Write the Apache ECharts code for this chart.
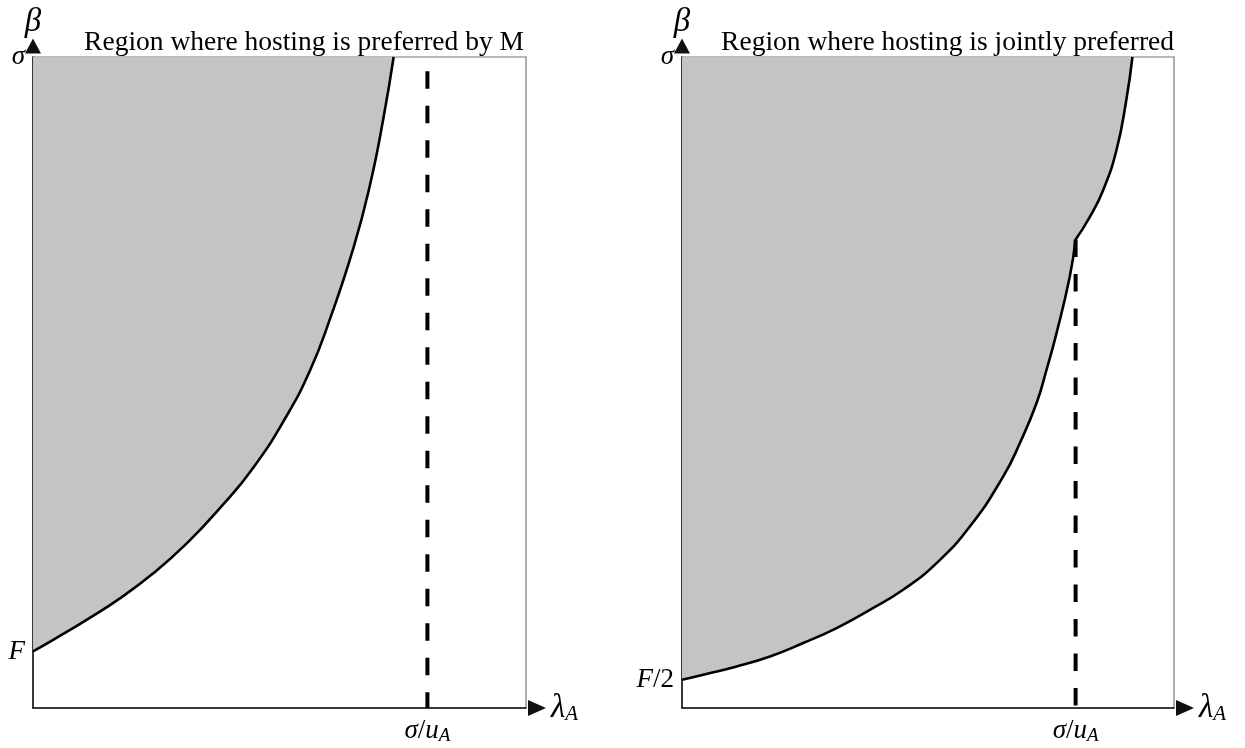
<!DOCTYPE html>
<html>
<head>
<meta charset="utf-8">
<title>hosting regions</title>
<script src="https://cdn.jsdelivr.net/npm/echarts@6/dist/echarts.min.js"></script>
<style>
  html, body { margin: 0; padding: 0; background: #fff; }
  #chart { width: 1245px; height: 748px; }
</style>
</head>
<body>
<div id="chart"></div>
<script>
// panel titles
const titles = ['Region where hosting is preferred by M', 'Region where hosting is jointly preferred'];

// boundary of the grey region, left panel: [lambda_A, beta], both scaled to 0..1
const leftCurve = [
  [0, 0.0869], [0.0418, 0.1051], [0.1095, 0.1358], [0.1771, 0.1688], [0.2446, 0.2072],
  [0.3124, 0.2532], [0.3799, 0.3077], [0.4475, 0.3699], [0.5152, 0.4497], [0.5625, 0.5195],
  [0.5996, 0.5916], [0.6503, 0.7075], [0.6842, 0.8057], [0.7112, 0.9079], [0.7315, 1]
];

// right panel, split at the kink on sigma/u_A
const rightLower = [
  [0, 0.0434], [0.0433, 0.0511], [0.1111, 0.0638], [0.1788, 0.0792], [0.2464, 0.0998],
  [0.3142, 0.1228], [0.3819, 0.1509], [0.4495, 0.1816], [0.5174, 0.2225], [0.5850, 0.2787],
  [0.6527, 0.3554], [0.6866, 0.4067], [0.7205, 0.4681], [0.7408, 0.5192], [0.7611, 0.5755],
  [0.7881, 0.6624], [0.8, 0.7198]
];
const rightUpper = [
  [0.8, 0.7198], [0.829, 0.7545], [0.856, 0.7954], [0.883, 0.8568], [0.903, 0.9335], [0.9155, 1]
];

// dashed line at sigma/u_A
const leftDash = [[0.8, 0.978], [0.8, 0]];
const rightDash = [[0.8, 0.7198], [0.8, 0]];

// tick positions and labels
const xTicks = [0.8];
const xTickLabels = ['{i|σ}{n|/}{i|u}{s|A}'];
const leftYTicks = [0.0869, 1];
const leftYLabels = ['{i|F}', '{i|σ}'];
const rightYTicks = [0.0434, 1];
const rightYLabels = ['{i|F}{n|/2}', '{i|σ}'];

const serif = '"Liberation Serif", "DejaVu Serif", serif';
const rich = {
  i: { fontFamily: serif, fontStyle: 'italic', fontSize: 27, color: '#000', lineHeight: 30 },
  n: { fontFamily: serif, fontSize: 27, color: '#000', lineHeight: 30 },
  s: { fontFamily: serif, fontStyle: 'italic', fontSize: 19, color: '#000', lineHeight: 30, padding: [10, 0, 0, 0] },
  L: { fontFamily: serif, fontStyle: 'italic', fontSize: 33, color: '#000', lineHeight: 34 },
  S: { fontFamily: serif, fontStyle: 'italic', fontSize: 21, color: '#000', lineHeight: 34, padding: [12, 0, 0, 0] }
};

function pickLabel(ticks, labels) {
  return function (v) {
    const k = ticks.findIndex(t => Math.abs(t - v) < 1e-6);
    return k < 0 ? '' : labels[k];
  };
}

function xAxisFor(gridIndex) {
  return {
    type: 'value', gridIndex: gridIndex, min: 0, max: 1,
    splitLine: { show: false },
    axisTick: { show: false },
    axisLine: {
      show: true, onZero: false,
      symbol: ['none', 'triangle'], symbolSize: [16, 18], symbolOffset: [0, 11],
      lineStyle: { color: '#111', width: 1.5 }
    },
    axisLabel: {
      show: true, customValues: xTicks, margin: 8,
      formatter: pickLabel(xTicks, xTickLabels), rich: rich
    },
    name: '{L|λ}{S|A}', nameLocation: 'end', nameGap: 25,
    nameTextStyle: { rich: rich, align: 'left' }
  };
}

function yAxisFor(gridIndex, ticks, labels) {
  return {
    type: 'value', gridIndex: gridIndex, min: 0, max: 1,
    splitLine: { show: false },
    axisTick: { show: false },
    axisLine: {
      show: true, onZero: false,
      symbol: ['none', 'triangle'], symbolSize: [16, 15], symbolOffset: [0, 11],
      lineStyle: { color: '#111', width: 1.5 }
    },
    axisLabel: {
      show: true, customValues: ticks, margin: 8,
      formatter: pickLabel(ticks, labels), rich: rich
    },
    name: '{L|β}', nameLocation: 'end', nameGap: 18,
    nameTextStyle: { rich: rich }
  };
}

function dashSeries(idx, pts) {
  return {
    type: 'line', xAxisIndex: idx, yAxisIndex: idx, data: pts,
    symbol: 'none', silent: true, z: 2,
    lineStyle: { color: '#000', width: 4, type: [17.5, 17] }
  };
}

// grey fill above a boundary, drawn without its own line
function fillSeries(idx, pts) {
  return {
    type: 'line', xAxisIndex: idx, yAxisIndex: idx, data: pts,
    symbol: 'none', smooth: 0.5, silent: true, z: 1,
    lineStyle: { width: 0, opacity: 0 },
    areaStyle: { color: '#c4c4c4', opacity: 1, origin: 'end' }
  };
}

function curveSeries(idx, pts) {
  return {
    type: 'line', xAxisIndex: idx, yAxisIndex: idx, data: pts,
    symbol: 'none', smooth: 0.5, silent: true, z: 3,
    lineStyle: { color: '#000', width: 2.6 }
  };
}

const chart = echarts.init(document.getElementById('chart'));
chart.setOption({
  animation: false,
  backgroundColor: '#fff',
  title: [
    { text: titles[0], right: 716, top: 24,
      textStyle: { fontFamily: serif, fontSize: 27.5, fontWeight: 'normal', color: '#000' } },
    { text: titles[1], right: 66, top: 24,
      textStyle: { fontFamily: serif, fontSize: 27.5, fontWeight: 'normal', color: '#000' } }
  ],
  grid: [
    { left: 33, top: 57, width: 493, height: 651, show: true, borderColor: '#777', borderWidth: 1.2 },
    { left: 682, top: 57, width: 492, height: 651, show: true, borderColor: '#777', borderWidth: 1.2 }
  ],
  xAxis: [xAxisFor(0), xAxisFor(1)],
  yAxis: [yAxisFor(0, leftYTicks, leftYLabels), yAxisFor(1, rightYTicks, rightYLabels)],
  series: [
    fillSeries(0, leftCurve),
    dashSeries(0, leftDash),
    curveSeries(0, leftCurve),
    fillSeries(1, rightLower),
    // the upper fill starts one point early so the two fills overlap with no seam
    fillSeries(1, [rightLower[rightLower.length - 2]].concat(rightUpper)),
    dashSeries(1, rightDash),
    curveSeries(1, rightLower),
    curveSeries(1, rightUpper)
  ]
});
</script>
</body>
</html>
